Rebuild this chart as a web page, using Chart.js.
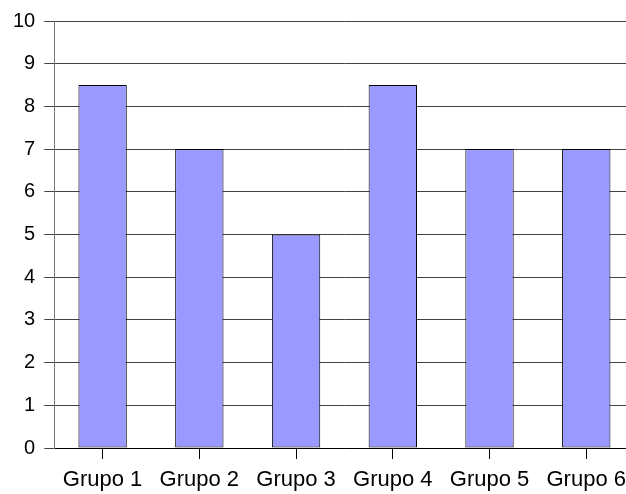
<!DOCTYPE html>
<html>
<head>
<meta charset="utf-8">
<script src="https://cdn.jsdelivr.net/npm/chart.js@4"></script>
<style>
  html, body { margin: 0; padding: 0; background: #fff; overflow: hidden; }
  #wrap { width: 626px; height: 494px; overflow: hidden; }
  #box { position: relative; width: 636px; height: 494px; }
</style>
</head>
<body>
<div id="wrap"><div id="box"><canvas id="c"></canvas></div></div>
<script>
const categories = ['Grupo 1', 'Grupo 2', 'Grupo 3', 'Grupo 4', 'Grupo 5', 'Grupo 6'];
const values = [8.5, 7, 5, 8.5, 7, 7];
const yTicks = [0, 1, 2, 3, 4, 5, 6, 7, 8, 9, 10];

const family = '"Liberation Sans", Arial, sans-serif';

new Chart(document.getElementById('c'), {
  type: 'bar',
  data: {
    labels: categories,
    datasets: [{
      data: values,
      backgroundColor: '#9999ff',
      borderColor: '#000000',
      borderWidth: 1,
      borderSkipped: false,
      categoryPercentage: 1,
      barPercentage: 0.5
    }]
  },
  options: {
    responsive: true,
    maintainAspectRatio: false,
    animation: false,
    devicePixelRatio: 1,
    layout: { padding: { top: 9, right: 0, bottom: -7, left: 4 } },
    plugins: { legend: { display: false }, tooltip: { enabled: false } },
    scales: {
      x: {
        offset: true,
        grid: { display: true, offset: false, drawOnChartArea: false, drawTicks: true, tickLength: 11, color: '#000000', lineWidth: 1 },
        border: { display: true, color: '#000000', width: 1 },
        ticks: { color: '#000000', font: { family: family, size: 22, lineHeight: 1 }, padding: 10, maxRotation: 0, autoSkip: false }
      },
      y: {
        min: 0,
        max: 10,
        afterBuildTicks: (axis) => { axis.ticks = yTicks.map(v => ({ value: v })); },
        grid: { color: '#444444', lineWidth: 1, tickLength: 10 },
        border: { display: true, color: '#777777', width: 1 },
        ticks: { color: '#000000', font: { family: family, size: 20 }, padding: 9 }
      }
    }
  }
});
</script>
</body>
</html>
